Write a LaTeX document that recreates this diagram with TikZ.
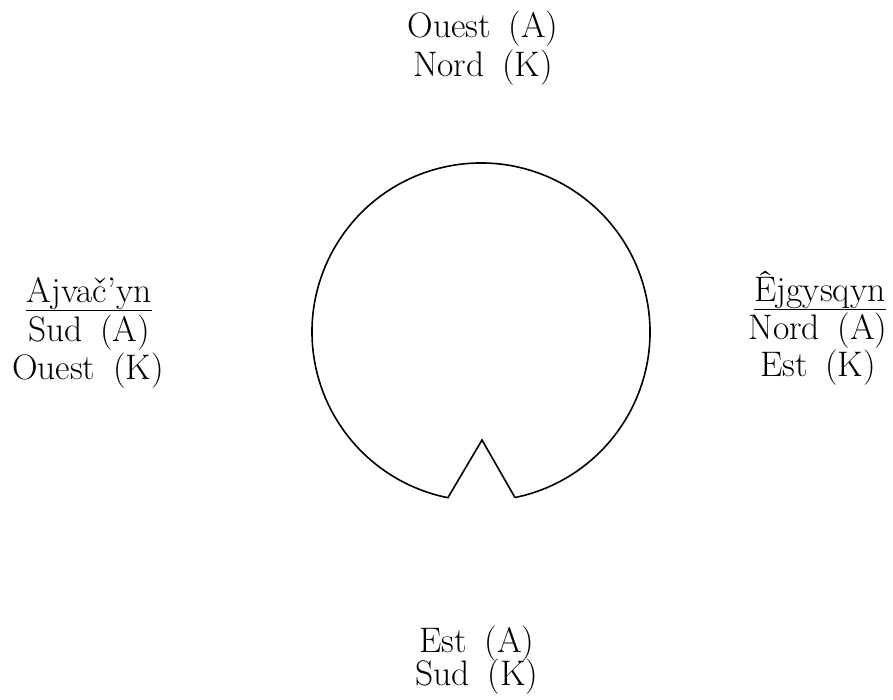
\documentclass[tikz,border=0pt]{standalone}
\newcommand\lgap{\hspace{0.5em}}
\tikzset{
  lbl/.style={anchor=base, inner sep=0pt, font=\fontsize{35.5}{40}\selectfont},
  rim/.style={line width=1.6pt, line join=miter},
  ul/.style={line width=1.4pt}
}
\begin{document}
\begin{tikzpicture}[x=1pt,y=1pt]
\useasboundingbox (0,0) rectangle (893,700);
% labels
\node[lbl] (n1) at (483,662) {Ouest\lgap(A)};
\node[lbl] (n2) at (483,623) {Nord\lgap(K)};
\node[lbl] (s1) at (477,47) {Est\lgap(A)};
\node[lbl] (s2) at (477,14) {Sud\lgap(K)};
\node[lbl] (w0) at (89,397) {Ajvač’yn};
\node[lbl] (w1) at (89,358) {Sud\lgap(A)};
\node[lbl] (w2) at (88,320) {Ouest\lgap(K)};
\node[lbl] (e0) at (820,398) {Êjgysqyn};
\node[lbl] (e1) at (818,360) {Nord\lgap(A)};
\node[lbl] (e2) at (818,323) {Est\lgap(K)};
\draw[ul] (w0.south west) -- (w0.south east);
\draw[ul] (e0.south west) -- (e0.south east);
% circle with notch
\coordinate (c) at (481,368);
\coordinate (apex) at (482,260);
\draw[rim] ([shift={(281.6:169)}]c) arc[start angle=281.6, end angle=618.7, radius=169]
  -- (apex) -- ([shift={(281.6:169)}]c);
\end{tikzpicture}
\end{document}
